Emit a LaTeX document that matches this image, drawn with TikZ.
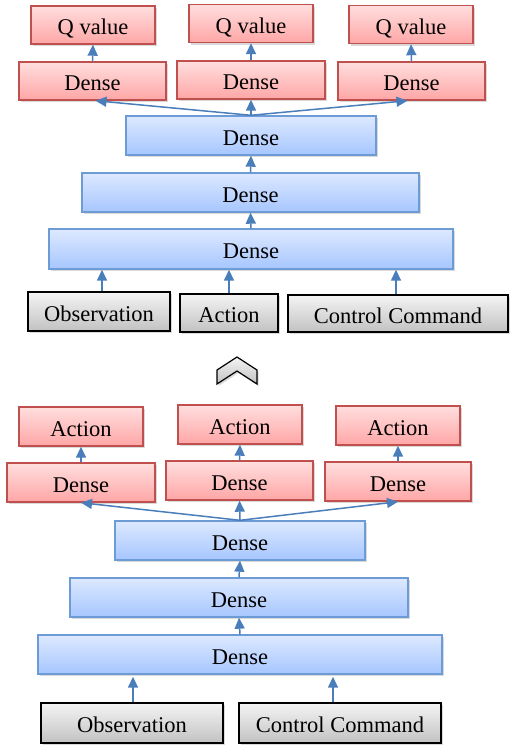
\documentclass[tikz,border=0pt]{standalone}
\usepackage{fontspec}
\setmainfont{Liberation Serif}
\usetikzlibrary{arrows.meta,shadows,calc}
\definecolor{redtop}{HTML}{FFDEDE}
\definecolor{redbot}{HTML}{FFA6A6}
\definecolor{redline}{HTML}{C0504D}
\definecolor{bluetop}{HTML}{DDE9FF}
\definecolor{bluebot}{HTML}{A6C6FF}
\definecolor{blueline}{HTML}{6C9BD6}
\definecolor{graytop}{HTML}{F4F4F4}
\definecolor{graybot}{HTML}{C2C2C2}
\definecolor{arrc}{HTML}{4A7EBB}
\tikzset{
  boxbase/.style={rectangle, inner sep=0pt, line width=1.4pt,
    text height=19pt, text depth=0pt,
    font=\fontsize{22.5}{27}\selectfont,
    drop shadow={shadow xshift=1.5pt, shadow yshift=-2pt, opacity=0.3}},
  redbox/.style={boxbase, draw=redline, top color=redtop, bottom color=redbot},
  bluebox/.style={boxbase, draw=blueline, top color=bluetop, bottom color=bluebot},
  graybox/.style={boxbase, draw=black, top color=graytop, bottom color=graybot},
  arr/.style={draw=arrc, line width=1.5pt, -{Triangle[length=11pt,width=10pt]}, shorten >=0pt},
}
\begin{document}
\begin{tikzpicture}[x=1pt,y=-1pt]
\useasboundingbox (0,0) rectangle (516,755);
% ---------- top network ----------
\node[redbox, minimum width=124, minimum height=38] (q1) at (93,25) {Q value};
\node[redbox, minimum width=124, minimum height=38] (q2) at (251,23.5) {Q value};
\node[redbox, minimum width=124, minimum height=38] (q3) at (411,24.5) {Q value};
\node[redbox, minimum width=147, minimum height=38] (d1) at (92.5,81) {Dense};
\node[redbox, minimum width=148, minimum height=38] (d2) at (251,80) {Dense};
\node[redbox, minimum width=147, minimum height=38] (d3) at (411.5,81) {Dense};
\node[bluebox, minimum width=250, minimum height=39] (b1) at (251,135.5) {Dense};
\node[bluebox, minimum width=337, minimum height=39] (b2) at (250.5,192.5) {Dense};
\node[bluebox, minimum width=404, minimum height=40] (b3) at (251,249) {Dense};
\node[graybox, minimum width=142, minimum height=39] (g1) at (99,311.5) {Observation};
\node[graybox, minimum width=98, minimum height=38] (g2) at (229,313) {Action};
\node[graybox, minimum width=220, minimum height=37] (g3) at (398,313.5) {Control Command};
\draw[arr] ([xshift=3pt]g1.north) -- ([xshift=3pt]g1.north |- b3.south);
\draw[arr] (g2.north) -- (g2.north |- b3.south);
\draw[arr] ([xshift=-2pt]g3.north) -- ([xshift=-2pt]g3.north |- b3.south);
\draw[arr] (b3.north) -- (b2.south);
\draw[arr] (b2.north) -- (b1.south);
\draw[arr] (b1.north) -- (d2.south);
\draw[arr] (b1.north) -- ([xshift=3pt]d1.south);
\draw[arr] (b1.north) -- ([xshift=-4pt]d3.south);
\draw[arr] (d1.north) -- (q1.south);
\draw[arr] (d2.north) -- (q2.south);
\draw[arr] (d3.north) -- (q3.south);
% ---------- chevron ----------
\draw[line width=1.2pt, top color=graytop, bottom color=graybot,
  drop shadow={shadow xshift=1.5pt, shadow yshift=-2pt, opacity=0.3}]
  (237,357) -- (257,370) -- (257,384) -- (237,371) -- (217,384) -- (217,370) -- cycle;
% ---------- bottom network ----------
\node[redbox, minimum width=124, minimum height=39] (a1) at (81,426.5) {Action};
\node[redbox, minimum width=124, minimum height=39] (a2) at (240,424.5) {Action};
\node[redbox, minimum width=124, minimum height=39] (a3) at (398,425.5) {Action};
\node[redbox, minimum width=148, minimum height=39] (e1) at (81,482.5) {Dense};
\node[redbox, minimum width=147, minimum height=39] (e2) at (239.5,480.5) {Dense};
\node[redbox, minimum width=146, minimum height=39] (e3) at (398,481.5) {Dense};
\node[bluebox, minimum width=250, minimum height=39] (c1) at (240,540.5) {Dense};
\node[bluebox, minimum width=338, minimum height=39] (c2) at (239,597.5) {Dense};
\node[bluebox, minimum width=404, minimum height=39] (c3) at (240,654.5) {Dense};
\node[graybox, minimum width=182, minimum height=40] (h1) at (132,723) {Observation};
\node[graybox, minimum width=202, minimum height=40] (h2) at (340,723) {Control Command};
\draw[arr] ([xshift=1pt]h1.north) -- ([xshift=1pt,yshift=-2pt]h1.north |- c3.south);
\draw[arr] ([xshift=-7pt]h2.north) -- ([xshift=-7pt,yshift=-2pt]h2.north |- c3.south);
\draw[arr] (c3.north) -- (c2.south);
\draw[arr] (c2.north) -- (c1.south);
\draw[arr] (c1.north) -- (e2.south);
\draw[arr] (c1.north) -- (e1.south);
\draw[arr] (c1.north) -- (e3.south);
\draw[arr] (e1.north) -- (a1.south);
\draw[arr] (e2.north) -- (a2.south);
\draw[arr] (e3.north) -- (a3.south);
\end{tikzpicture}
\end{document}
